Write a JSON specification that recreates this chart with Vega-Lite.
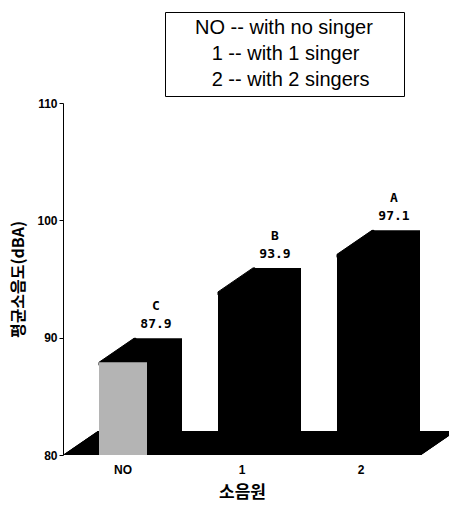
{
  "$schema": "https://vega.github.io/schema/vega-lite/v6.json",
  "width": 358,
  "height": 352,
  "autosize": {"type": "none"},
  "padding": {"left": 63, "top": 103, "right": 28, "bottom": 54},
  "background": "white",
  "data": {"values": [
    {"source": "NO", "rank": "C", "value": 87.9, "desc": "NO -- with no singer"},
    {"source": "1", "rank": "B", "value": 93.9, "desc": "1 -- with 1 singer"},
    {"source": "2", "rank": "A", "value": 97.1, "desc": "2 -- with 2 singers"}
  ]},
  "encoding": {
    "x": {
      "field": "source", "type": "nominal", "title": "소음원",
      "scale": {"domain": ["NO", "1", "2"], "paddingInner": 0.5966, "paddingOuter": 0.3025},
      "axis": {
        "domain": false, "ticks": false, "labelAngle": 0,
        "labelFont": "Liberation Sans", "labelFontWeight": "bold", "labelFontSize": 12, "labelColor": "black",
        "labelPadding": 9,
        "titleFont": "Noto Sans CJK KR", "titleFontSize": 17, "titleFontWeight": "bold", "titleColor": "black",
        "titlePadding": 9
      }
    },
    "y": {
      "field": "value", "type": "quantitative", "title": "평균소음도(dBA)",
      "scale": {"domain": [80, 110], "nice": false, "zero": false},
      "axis": {
        "values": [80, 90, 100, 110], "grid": false,
        "domainColor": "black", "tickColor": "black", "tickSize": 4,
        "labelFont": "Liberation Sans", "labelFontWeight": "bold", "labelFontSize": 12, "labelColor": "black",
        "labelPadding": 2,
        "titleFont": "Noto Sans CJK KR", "titleFontSize": 16, "titleFontWeight": "bold", "titleColor": "black",
        "titlePadding": 10
      }
    }
  },
  "layer": [
    {
      "mark": {"type": "point", "shape": "M-36,0 L322,0 L357,-24 L-1,-24 Z", "size": 4, "filled": true, "color": "black", "opacity": 1, "strokeWidth": 0},
      "encoding": {
        "x": {"datum": "NO", "type": "nominal", "bandPosition": 0, "title": "소음원"},
        "y": {"datum": 80, "type": "quantitative", "title": "평균소음도(dBA)"}
      }
    },
    {
      "mark": {"type": "bar", "color": "black", "xOffset": 35, "x2Offset": 35, "yOffset": -24, "y2Offset": -24},
      "encoding": {"y2": {"datum": 80}}
    },
    {
      "mark": {"type": "point", "shape": "M0,0 L35,-24 L37,-24 L37,3 L0,3 Z", "size": 4, "filled": true, "fill": "black", "stroke": "black", "strokeWidth": 1, "opacity": 1},
      "encoding": {"x": {"field": "source", "type": "nominal", "bandPosition": 0}}
    },
    {
      "mark": {"type": "bar"},
      "encoding": {
        "y2": {"datum": 80},
        "fill": {
          "field": "desc", "type": "nominal",
          "scale": {"domain": ["NO -- with no singer", "1 -- with 1 singer", "2 -- with 2 singers"], "range": ["#b4b4b4", "black", "black"]},
          "legend": {
            "title": null, "orient": "none", "legendX": 102, "legendY": -91,
            "strokeColor": "black", "fillColor": "white", "padding": 6,
            "symbolOpacity": 0, "symbolSize": 100, "symbolStrokeWidth": 0, "labelOffset": 4,
            "rowPadding": 6,
            "labelFont": "Liberation Sans", "labelFontSize": 20, "labelColor": "black", "labelLimit": 400,
            "labelExpr": "datum.label == 'NO -- with no singer' ? datum.label : (datum.label == '2 -- with 2 singers' ? '\\u200b\\u00a0\\u00a0\\u00a0' + datum.label + '\\u00a0\\u00a0\\u00a0\\u00a0\\u00a0\\u200b' : '\\u200b\\u00a0\\u00a0\\u00a0' + datum.label)"
          }
        }
      }
    },
    {
      "mark": {"type": "text", "font": "DejaVu Sans Mono", "fontSize": 13, "fontWeight": "bold", "color": "black", "dx": 33, "dy": -56},
      "encoding": {"text": {"field": "rank"}}
    },
    {
      "mark": {"type": "text", "font": "DejaVu Sans Mono", "fontSize": 13, "fontWeight": "bold", "color": "black", "dx": 33, "dy": -38},
      "encoding": {"text": {"field": "value", "format": ".1f"}}
    }
  ],
  "config": {"view": {"stroke": null}}
}
